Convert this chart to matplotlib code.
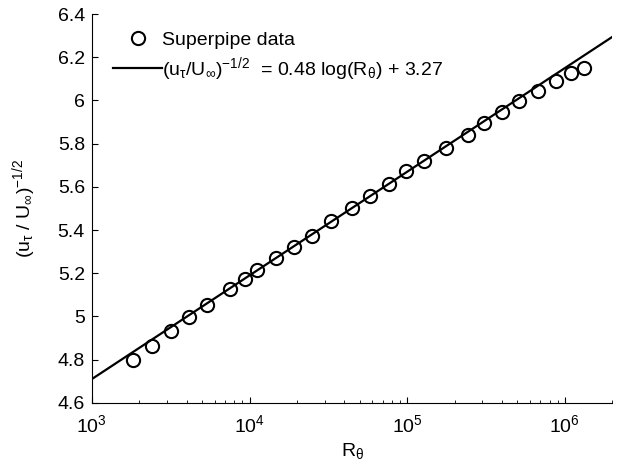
import numpy as np
import matplotlib
matplotlib.use("Agg")
import matplotlib.pyplot as plt

plt.rcParams["font.family"] = ["Liberation Sans", "DejaVu Sans"]
plt.rcParams["mathtext.default"] = "regular"

# Superpipe data
r_theta = [1.83e3, 2.39e3, 3.16e3, 4.11e3, 5.34e3, 7.48e3, 9.38e3, 1.12e4,
           1.48e4, 1.92e4, 2.49e4, 3.29e4, 4.46e4, 5.79e4, 7.61e4, 9.77e4,
           1.28e5, 1.77e5, 2.43e5, 3.05e5, 3.99e5, 5.15e5, 6.77e5, 8.8e5,
           1.09e6, 1.32e6]
u_ratio = [4.800, 4.863, 4.932, 4.995, 5.055, 5.127, 5.173, 5.216,
           5.269, 5.322, 5.373, 5.442, 5.502, 5.558, 5.614, 5.673,
           5.719, 5.782, 5.840, 5.896, 5.948, 5.996, 6.042, 6.092,
           6.126, 6.152]
ytick_vals = [4.6, 4.8, 5.0, 5.2, 5.4, 5.6, 5.8, 6.0, 6.2, 6.4]
ytick_labels = ["4.6", "4.8", "5", "5.2", "5.4", "5.6", "5.8", "6",
                "6.2", "6.4"]

# fit: 0.48 log10(R) + 3.27
fit_a, fit_b = 0.48, 3.27
xfit = np.logspace(3, np.log10(2e6), 200)
yfit = fit_a * np.log10(xfit) + fit_b

fs = 14
fig = plt.figure(figsize=(6.21, 4.70), dpi=100)
ax = fig.add_axes([0.148, 0.143, 0.838, 0.827])

ax.plot(r_theta, u_ratio, "o", ms=9.5, mfc="none", mec="black", mew=1.5,
        label="Superpipe data")
ax.plot(xfit, yfit, "-", color="black", lw=1.6,
        label=r"$(u_\tau/U_\infty)^{-1/2}$  = 0.48 log(R$_\theta$) + 3.27")

ax.set_xscale("log")
ax.set_xlim(1e3, 2e6)
ax.set_ylim(4.6, 6.4)
ax.set_yticks(ytick_vals)
ax.set_yticklabels(ytick_labels)
ax.spines["top"].set_visible(False)
ax.spines["right"].set_visible(False)
ax.tick_params(which="both", direction="in", labelsize=fs)
ax.tick_params(which="major", length=4, width=0.8)
ax.tick_params(which="minor", length=2.5, width=0.6)
ax.tick_params(axis="x", which="both", pad=8)
ax.tick_params(axis="y", pad=5)

ax.set_xlabel(r"R$_\theta$", fontsize=fs, labelpad=4)
ax.set_ylabel(r"(u$_\tau$ / U$_\infty$)$^{-1/2}$", fontsize=fs)
ax.yaxis.set_label_coords(-0.103, 0.5)

ax.legend(loc="upper left", frameon=False, fontsize=fs, handlelength=2.5,
          handletextpad=0.0, borderaxespad=0.3, labelspacing=0.3,
          bbox_to_anchor=(0.015, 0.99))

fig.savefig("out.png", dpi=100)
